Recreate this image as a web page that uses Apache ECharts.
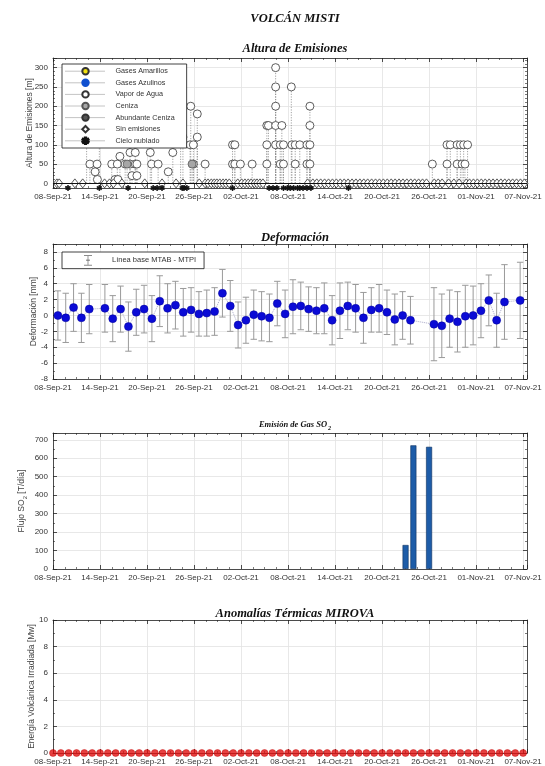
<!DOCTYPE html>
<html>
<head>
<meta charset="utf-8">
<script src="https://cdn.jsdelivr.net/npm/echarts@6/dist/echarts.min.js"></script>
<style>html,body{margin:0;padding:0;background:#fff}#c{width:545px;height:766px}</style>
</head>
<body>
<div id="c"></div>
<script>
// ================= DATA =================
const xTickLabels = ['08-Sep-21','14-Sep-21','20-Sep-21','26-Sep-21','02-Oct-21','08-Oct-21','14-Oct-21','20-Oct-21','26-Oct-21','01-Nov-21','07-Nov-21'];

// Altura de Emisiones: ['MM-DD HH', altura m]
const gasesAmarillos = [];
const gasesAzulinos = [];
const vaporAgua = [
  ['09-12 07',200],['09-12 17',50],['09-13 09',30],['09-13 15',50],['09-13 16',10],['09-13 22',150],
  ['09-15 12',50],['09-15 22',10],['09-16 05',50],['09-16 07',10],['09-16 13',70],['09-17 05',50],
  ['09-17 20',50],['09-17 20',80],['09-18 02',20],['09-18 12',50],['09-18 12',80],['09-18 17',50],['09-18 17',20],
  ['09-20 10',80],['09-20 14',50],['09-21 10',50],['09-22 17',30],['09-23 07',80],['09-24 07',180],['09-24 14',120],
  ['09-25 12',100],['09-25 14',200],['09-25 22',100],['09-25 22',50],['09-26 10',180],['09-26 10',120],['09-27 10',50],
  ['09-30 22',100],['09-30 22',50],['10-01 05',100],['10-01 05',50],['10-01 22',50],['10-03 10',50],
  ['10-05 07',150],['10-05 07',100],['10-05 07',50],['10-05 12',150],
  ['10-06 10',300],['10-06 10',250],['10-06 10',200],['10-06 10',150],['10-06 10',100],
  ['10-07 00',100],['10-07 00',50],['10-07 05',150],['10-07 10',100],['10-07 10',50],
  ['10-08 10',250],['10-08 12',100],['10-08 22',100],['10-08 22',50],['10-09 12',100],
  ['10-10 10',100],['10-10 10',50],['10-10 19',200],['10-10 19',150],['10-10 19',100],['10-10 19',50],
  ['10-26 10',50],['10-28 07',100],['10-28 07',50],['10-28 17',100],['10-29 14',100],['10-29 14',50],
  ['10-30 00',100],['10-30 05',50],['10-30 10',100],['10-30 14',50],['10-30 22',100]
];
const ceniza = [['09-17 11',50],['09-25 18',50]];
const abundanteCeniza = [];
const sinEmisiones = [
  '09-08 12','09-08 19','09-10 19','09-11 19','09-14 14','09-15 05','09-15 17','09-16 19','09-19 17','09-21 22',
  '09-23 17','09-24 14','09-26 16','09-27 10','09-27 19','09-28 05','09-28 14','09-28 22','09-29 07','09-29 17',
  '09-30 02','09-30 12','10-01 14','10-02 02','10-02 12','10-02 22','10-03 07','10-03 17','10-04 01','10-04 10',
  '10-04 19','10-10 12','10-11 04','10-11 16','10-12 04','10-12 16','10-13 04','10-13 16','10-14 04','10-14 16',
  '10-15 04','10-15 16','10-16 04','10-16 16','10-17 04','10-17 16','10-18 04','10-18 16','10-19 04','10-19 16',
  '10-20 04','10-20 16','10-21 04','10-21 16','10-22 04','10-22 16','10-23 04','10-23 16','10-24 04','10-24 16',
  '10-25 04','10-25 16','10-26 16','10-27 04','10-27 16','10-28 12','10-29 04','10-29 20','10-30 18','10-31 04',
  '10-31 16','11-01 04','11-01 16','11-02 04','11-02 16','11-03 04','11-03 16','11-04 04','11-04 16','11-05 04',
  '11-05 16','11-06 04','11-06 16','11-07 04','11-07 16','11-08 04'
];
const cieloNublado = [
  '09-09 22','09-13 22','09-17 14','09-20 19','09-21 07','09-21 22','09-24 12','09-24 17','09-25 02','09-30 22',
  '10-05 14','10-06 02','10-06 14','10-07 10','10-07 22','10-08 07','10-08 17','10-09 05','10-09 12','10-09 22',
  '10-10 10','10-10 22','10-15 17'
];
const cieloNubladoNivel = -12;

// Deformación (línea base MTAB - MTPI), medida diaria ~15h
const defDates = ['09-08','09-09','09-10','09-11','09-12','09-14','09-15','09-16','09-17','09-18','09-19','09-20','09-21','09-22','09-23','09-24','09-25','09-26','09-27','09-28','09-29','09-30','10-01','10-02','10-03','10-04','10-05','10-06','10-07','10-08','10-09','10-10','10-11','10-12','10-13','10-14','10-15','10-16','10-17','10-18','10-19','10-20','10-21','10-22','10-23','10-26','10-27','10-28','10-29','10-30','10-31','11-01','11-02','11-03','11-04','11-06'];
const defHour = 15;
const defValues = [0.0,-0.3,1.0,-0.3,0.8, 0.9,-0.4,0.8,-1.4,0.4,0.8,-0.4,1.8,0.9,1.3, 0.4,0.7,0.2,0.3,0.5,2.8,1.2,-1.2,-0.6,0.1, -0.1,-0.3,1.5,0.2,1.1,1.2,0.8,0.6,0.9,-0.6, 0.6,1.2,0.9,-0.3,0.7,0.9,0.4,-0.5,0.0,-0.6, -1.1,-1.3,-0.4,-0.8,-0.1,0.0,0.6,1.9,-0.6,1.7, 1.9];
const defErrors = [3.1,3.1,3.0,3.1,3.1, 3.0,2.9,2.9,3.1,2.9,3.0,2.9,3.2,3.1,3.0, 3.0,2.8,2.8,2.9,3.0,3.0,3.2,2.9,2.9,3.1, 3.1,3.0,2.8,3.0,3.4,3.0,2.8,2.9,3.2,3.1, 3.5,3.0,3.0,3.2,2.8,3.0,2.8,3.2,3.0,3.0, 4.6,4.0,3.6,3.8,3.9,3.7,3.4,3.2,3.4,4.7, 4.8];

// Emisión de gas SO2 [T/día]
const so2Dates = ['10-23','10-24','10-26'];
const so2Values = [130,670,662];

// Anomalías térmicas MIROVA [MW]
const mirovaDates = ['09-08','09-09','09-10','09-11','09-12','09-13','09-14','09-15','09-16','09-17','09-18','09-19','09-20','09-21','09-22','09-23','09-24','09-25','09-26','09-27','09-28','09-29','09-30','10-01','10-02','10-03','10-04','10-05','10-06','10-07','10-08','10-09','10-10','10-11','10-12','10-13','10-14','10-15','10-16','10-17','10-18','10-19','10-20','10-21','10-22','10-23','10-24','10-25','10-26','10-27','10-28','10-29','10-30','10-31','11-01','11-02','11-03','11-04','11-05','11-06','11-07'];
const mirovaValues = [0,0,0,0,0,0,0,0,0,0,0,0,0,0,0,0,0,0,0,0,0,0,0,0,0,0,0,0,0,0,0,0,0,0,0,0,0,0,0,0,0,0,0,0,0,0,0,0,0,0,0,0,0,0,0,0,0,0,0,0,0];

// ================= HELPERS =================
const T0 = Date.UTC(2021, 8, 8);
function toDay(s, defH) {
  const p = s.split(' ');
  const md = p[0].split('-');
  const h = p.length > 1 ? +p[1] : (defH || 0);
  return (Date.UTC(2021, +md[0] - 1, +md[1], h) - T0) / 864e5;
}
const SANS = 'Liberation Sans, Arial, sans-serif';
const SERIF = 'Liberation Serif, Times New Roman, serif';
const AX = '#222';
const GRIDC = '#e2e2e2';
const X_MAX = 60.5;

function xAxes(g) {
  const common = {
    gridIndex: g, type: 'value', min: 0, max: X_MAX, interval: 6,
    axisLine: { onZero: false, lineStyle: { color: AX, width: 0.8 } },
    axisTick: { inside: true, length: 4, lineStyle: { color: AX, width: 0.8 } },
    minorTick: { show: true, splitNumber: 4, length: 2, lineStyle: { color: AX, width: 0.6 } }
  };
  return [
    Object.assign({}, common, {
      position: 'bottom',
      axisLabel: {
        fontSize: 8, color: '#333', fontFamily: SANS, margin: 5, hideOverlap: false,
        formatter: v => { const k = v / 6; return Math.abs(k - Math.round(k)) < 1e-6 ? (xTickLabels[Math.round(k)] || '') : ''; }
      },
      splitLine: { show: true, lineStyle: { color: GRIDC, width: 0.8 } }
    }),
    Object.assign({}, common, { position: 'top', axisLabel: { show: false }, splitLine: { show: false } })
  ];
}
function yAxes(g, min, max, splitNumber, step, name, nameGap, minorSplit, nameRich) {
  const common = {
    gridIndex: g, type: 'value', min: min, max: max, splitNumber: splitNumber,
    axisLine: { onZero: false, lineStyle: { color: AX, width: 0.8 } },
    axisTick: { inside: true, length: 4, lineStyle: { color: AX, width: 0.8 } },
    minorTick: { show: true, splitNumber: minorSplit, length: 2, lineStyle: { color: AX, width: 0.6 } }
  };
  const fmt = v => { const k = v / step; return Math.abs(k - Math.round(k)) < 1e-6 ? String(Math.round(v)) : ''; };
  return [
    Object.assign({}, common, {
      position: 'left', name: name, nameLocation: 'middle', nameGap: nameGap, nameMoveOverlap: false,
      nameTextStyle: Object.assign({ fontSize: 8.5, color: '#444', fontFamily: SANS }, nameRich ? { rich: nameRich } : {}),
      axisLabel: { fontSize: 8, color: '#333', fontFamily: SANS, margin: 5, formatter: fmt, hideOverlap: false },
      splitLine: { show: true, lineStyle: { color: GRIDC, width: 0.8 } }
    }),
    Object.assign({}, common, { position: 'right', axisLabel: { show: false }, splitLine: { show: false } })
  ];
}

// ---- built series data ----
const toPts = arr => arr.map(d => [toDay(d[0]), d[1]]);
const stemData = toPts(gasesAmarillos.concat(gasesAzulinos, vaporAgua, ceniza, abundanteCeniza));
const starPath = 'path://M4,0h2v3.3l2.9,-1.7l1,1.7l-2.9,1.7l2.9,1.7l-1,1.7l-2.9,-1.7v3.3h-2v-3.3l-2.9,1.7l-1,-1.7l2.9,-1.7l-2.9,-1.7l1,-1.7l2.9,1.7z';
const errIcon = 'path://M0,0h9v1h-4v4.2h1.5v1.6h-1.5v4.2h4v1h-9v-1h4v-4.2h-1.5v-1.6h1.5v-4.2h-4z';

function emisSeries(name, data, symbol, size, fill, border, clip) {
  return {
    name: name, type: 'line', xAxisIndex: 0, yAxisIndex: 0, data: data,
    symbol: symbol, symbolSize: size, showSymbol: true, clip: clip, z: 4,
    lineStyle: { opacity: 0 },
    itemStyle: { color: fill, borderColor: border, borderWidth: 0.8 },
    emphasis: { disabled: true }, silent: true, animation: false
  };
}
const titleStyle = { fontFamily: SERIF, fontStyle: 'italic', fontWeight: 'bold', fontSize: 12.5, color: '#111' };

const option = {
  animation: false,
  backgroundColor: '#fff',
  textStyle: { fontFamily: SANS },
  title: [
    { text: 'VOLCÁN MISTI', left: 290, top: 7, textAlign: 'center', textStyle: titleStyle },
    { text: 'Altura de Emisiones', left: 290, top: 37, textAlign: 'center', textStyle: titleStyle },
    { text: 'Deformación', left: 290, top: 226, textAlign: 'center', textStyle: titleStyle },
    { text: 'Emisión de Gas SO{s|2}', left: 290, top: 414, textAlign: 'center',
      textStyle: { fontFamily: SERIF, fontStyle: 'italic', fontWeight: 'bold', fontSize: 8.5, color: '#111',
        rich: { s: { fontFamily: SERIF, fontStyle: 'italic', fontWeight: 'bold', fontSize: 6, color: '#111', padding: [6, 0, 0, 1] } } } },
    { text: 'Anomalías Térmicas MIROVA', left: 290, top: 602, textAlign: 'center', textStyle: titleStyle }
  ],
  grid: [
    { left: 53, right: 18, top: 58, height: 130 },
    { left: 53, right: 18, top: 244, height: 135 },
    { left: 53, right: 18, top: 433, height: 136 },
    { left: 53, right: 18, top: 620, height: 137 }
  ],
  xAxis: [].concat(xAxes(0), xAxes(1), xAxes(2), xAxes(3)),
  yAxis: [].concat(
    yAxes(0, -12, 325, 6, 50, 'Altura de Emisiones [m]', 19, 5),
    yAxes(1, -8, 9, 8, 2, 'Deformación [mm]', 15, 2),
    yAxes(2, 0, 737, 7, 100, 'Flujo SO{s|2} [T/día]', 25, 2, { s: { fontSize: 6, color: '#444', fontFamily: SANS, padding: [6, 0, 0, 0] } }),
    yAxes(3, 0, 10, 5, 2, 'Energía Volcánica Irradiada [Mw]', 17, 2)
  ),
  legend: [
    { data: ['Gases Amarillos','Gases Azulinos','Vapor de Agua','Ceniza','Abundante Ceniza','Sin emisiones','Cielo nublado'],
      orient: 'vertical', left: 62, top: 64, itemWidth: 40, itemHeight: 8, itemGap: 3.2,
      padding: [3, 12, 3, 3], backgroundColor: '#fff', borderColor: '#111', borderWidth: 0.8,
      selectedMode: false, z: 10,
      textStyle: { fontSize: 7.2, color: '#333', fontFamily: SANS, lineHeight: 8, padding: [0, 0, 0, 5] },
      lineStyle: { color: '#888', width: 1, type: 'dotted', opacity: 1 } },
    { data: [{ name: 'Línea base MTAB - MTPI', icon: errIcon }],
      left: 62, top: 252, itemWidth: 8, itemHeight: 11, padding: [3, 8, 3, 22],
      backgroundColor: '#fff', borderColor: '#111', borderWidth: 0.8, selectedMode: false, z: 10,
      textStyle: { fontSize: 7.5, color: '#333', fontFamily: SANS, padding: [0, 0, 0, 15] } }
  ],
  series: [
    // ---- Panel 1: Altura de emisiones ----
    { name: 'stems', type: 'custom', xAxisIndex: 0, yAxisIndex: 0, data: stemData, z: 2, silent: true,
      renderItem: (params, api) => {
        const x = api.value(0), y = api.value(1);
        const p0 = api.coord([x, 0]), p1 = api.coord([x, y]);
        return { type: 'line', shape: { x1: p0[0], y1: p0[1], x2: p1[0], y2: p1[1] },
          style: { stroke: '#8a8a8a', lineWidth: 0.8, lineDash: [1.2, 1.4] } };
      },
      markLine: { silent: true, symbol: 'none', label: { show: false }, animation: false,
        lineStyle: { color: '#111', width: 1, type: 'solid' }, data: [{ yAxis: 0 }] } },
    emisSeries('Gases Amarillos', toPts(gasesAmarillos), 'circle', 8, '#f0e010', '#333', false),
    emisSeries('Gases Azulinos', toPts(gasesAzulinos), 'circle', 8, '#1050d0', '#1050d0', false),
    emisSeries('Vapor de Agua', toPts(vaporAgua), 'circle', 8, '#ffffff', '#333', false),
    emisSeries('Ceniza', toPts(ceniza), 'circle', 8, '#a6a6a6', '#555', false),
    emisSeries('Abundante Ceniza', toPts(abundanteCeniza), 'circle', 8, '#555555', '#333', false),
    emisSeries('Sin emisiones', sinEmisiones.map(s => [toDay(s), 0]), 'diamond', [7, 9], '#ffffff', '#333', true),
    emisSeries('Cielo nublado', cieloNublado.map(s => [toDay(s), cieloNubladoNivel]), starPath, 5, '#111', '#111', false),

    // ---- Panel 2: Deformación ----
    { name: 'Línea base MTAB - MTPI', type: 'custom', xAxisIndex: 2, yAxisIndex: 2, z: 2, silent: true,
      itemStyle: { color: '#8c8c8c' },
      data: defDates.map((d, i) => [toDay(d, defHour), defValues[i] - defErrors[i], defValues[i] + defErrors[i]]),
      encode: { x: 0, y: [1, 2] },
      renderItem: (params, api) => {
        const x = api.value(0);
        const a = api.coord([x, api.value(2)]), b = api.coord([x, api.value(1)]);
        const w = 3.2, st = { stroke: '#9a9a9a', lineWidth: 1 };
        return { type: 'group', children: [
          { type: 'line', shape: { x1: a[0], y1: a[1], x2: b[0], y2: b[1] }, style: st },
          { type: 'line', shape: { x1: a[0] - w, y1: a[1], x2: a[0] + w, y2: a[1] }, style: st },
          { type: 'line', shape: { x1: b[0] - w, y1: b[1], x2: b[0] + w, y2: b[1] }, style: st }
        ] };
      } },
    { name: 'deformacion', type: 'line', xAxisIndex: 2, yAxisIndex: 2, z: 3, silent: true,
      data: defDates.map((d, i) => [toDay(d, defHour), defValues[i]]),
      symbol: 'circle', symbolSize: 8,
      itemStyle: { color: '#0b0bd6', borderColor: '#00009a', borderWidth: 0.5 },
      lineStyle: { color: '#a8a8c8', width: 1, type: 'dotted' } },

    // ---- Panel 3: SO2 ----
    { name: 'SO2', type: 'bar', xAxisIndex: 4, yAxisIndex: 4, barWidth: 6, silent: true,
      data: so2Dates.map((d, i) => [toDay(d), so2Values[i]]),
      itemStyle: { color: '#1d5ca8', borderColor: '#0b2f5e', borderWidth: 0.6 } },

    // ---- Panel 4: MIROVA ----
    { name: 'MIROVA', type: 'scatter', xAxisIndex: 6, yAxisIndex: 6, clip: false, silent: true,
      data: mirovaDates.map((d, i) => [toDay(d), mirovaValues[i]]),
      symbol: 'circle', symbolSize: 7, itemStyle: { color: '#e01010', borderColor: '#c00000', borderWidth: 0.5 } }
  ]
};

const chart = echarts.init(document.getElementById('c'), null, { renderer: 'canvas' });
chart.setOption(option);
</script>
</body>
</html>
